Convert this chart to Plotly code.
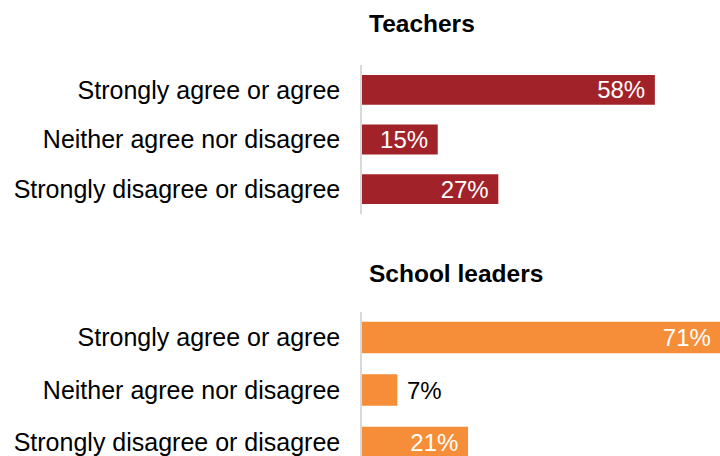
import plotly.graph_objects as go

categories = ["Strongly agree or agree", "Neither agree nor disagree", "Strongly disagree or disagree"]
teachers = [58, 15, 27]
leaders = [71, 7, 21]
teachers_pos = ["inside", "inside", "inside"]
leaders_pos = ["inside", "outside", "inside"]

RED = "#A12329"
ORANGE = "#F68D38"
NB = "\u00a0"
FONT = "Liberation Sans, Arial"

def labels(vals, pos):
    return [f"{v}%{NB}" if p == "inside" else f"{NB}{v}%" for v, p in zip(vals, pos)]

fig = go.Figure()
for vals, pos, color, xa, ya in [(teachers, teachers_pos, RED, "x", "y"),
                                 (leaders, leaders_pos, ORANGE, "x2", "y2")]:
    fig.add_trace(go.Bar(
        y=categories, x=vals, orientation="h", marker_color=color, width=0.6,
        marker_line_width=0,
        text=labels(vals, pos), textposition=pos,
        insidetextanchor="end", constraintext="none",
        insidetextfont=dict(color="white", size=24, family=FONT),
        outsidetextfont=dict(color="black", size=24, family=FONT),
        cliponaxis=True, xaxis=xa, yaxis=ya, hoverinfo="skip", textangle=0,
    ))

H = 456
def frac(px):
    return 1 - px / H

axis_common = dict(showgrid=False, zeroline=False)
fig.update_layout(
    width=720, height=456,
    margin=dict(l=362, r=0, t=0, b=0),
    paper_bgcolor="white", plot_bgcolor="white",
    showlegend=False,
    font=dict(family=FONT, size=24, color="black"),
    xaxis=dict(domain=[0, 1], range=[0, 70.9], visible=False, anchor="y", **axis_common),
    xaxis2=dict(domain=[0, 1], range=[0, 70.9], visible=False, anchor="y2", **axis_common),
    yaxis=dict(domain=[frac(214), frac(65)], range=[2.5, -0.5], anchor="x",
               showline=True, linecolor="#D9D9D9", linewidth=1.5, ticks="",
               ticklabelstandoff=15, tickfont=dict(size=25), **axis_common),
    yaxis2=dict(domain=[0, frac(312)], range=[2.257, -0.486], anchor="x2",
                showline=True, linecolor="#D9D9D9", linewidth=1.5, ticks="",
                ticklabelstandoff=15, tickfont=dict(size=25), **axis_common),
    annotations=[
        dict(text="<b>Teachers</b>", xref="paper", yref="paper", x=0.013, y=frac(24),
             xanchor="left", yanchor="middle", showarrow=False, font=dict(size=24.5)),
        dict(text="<b>School leaders</b>", xref="paper", yref="paper", x=0.013, y=frac(273),
             xanchor="left", yanchor="middle", showarrow=False, font=dict(size=24.5)),
    ],
)

fig.write_html("out.html", config={"displayModeBar": False},
               post_script="document.body.style.margin='0';")
